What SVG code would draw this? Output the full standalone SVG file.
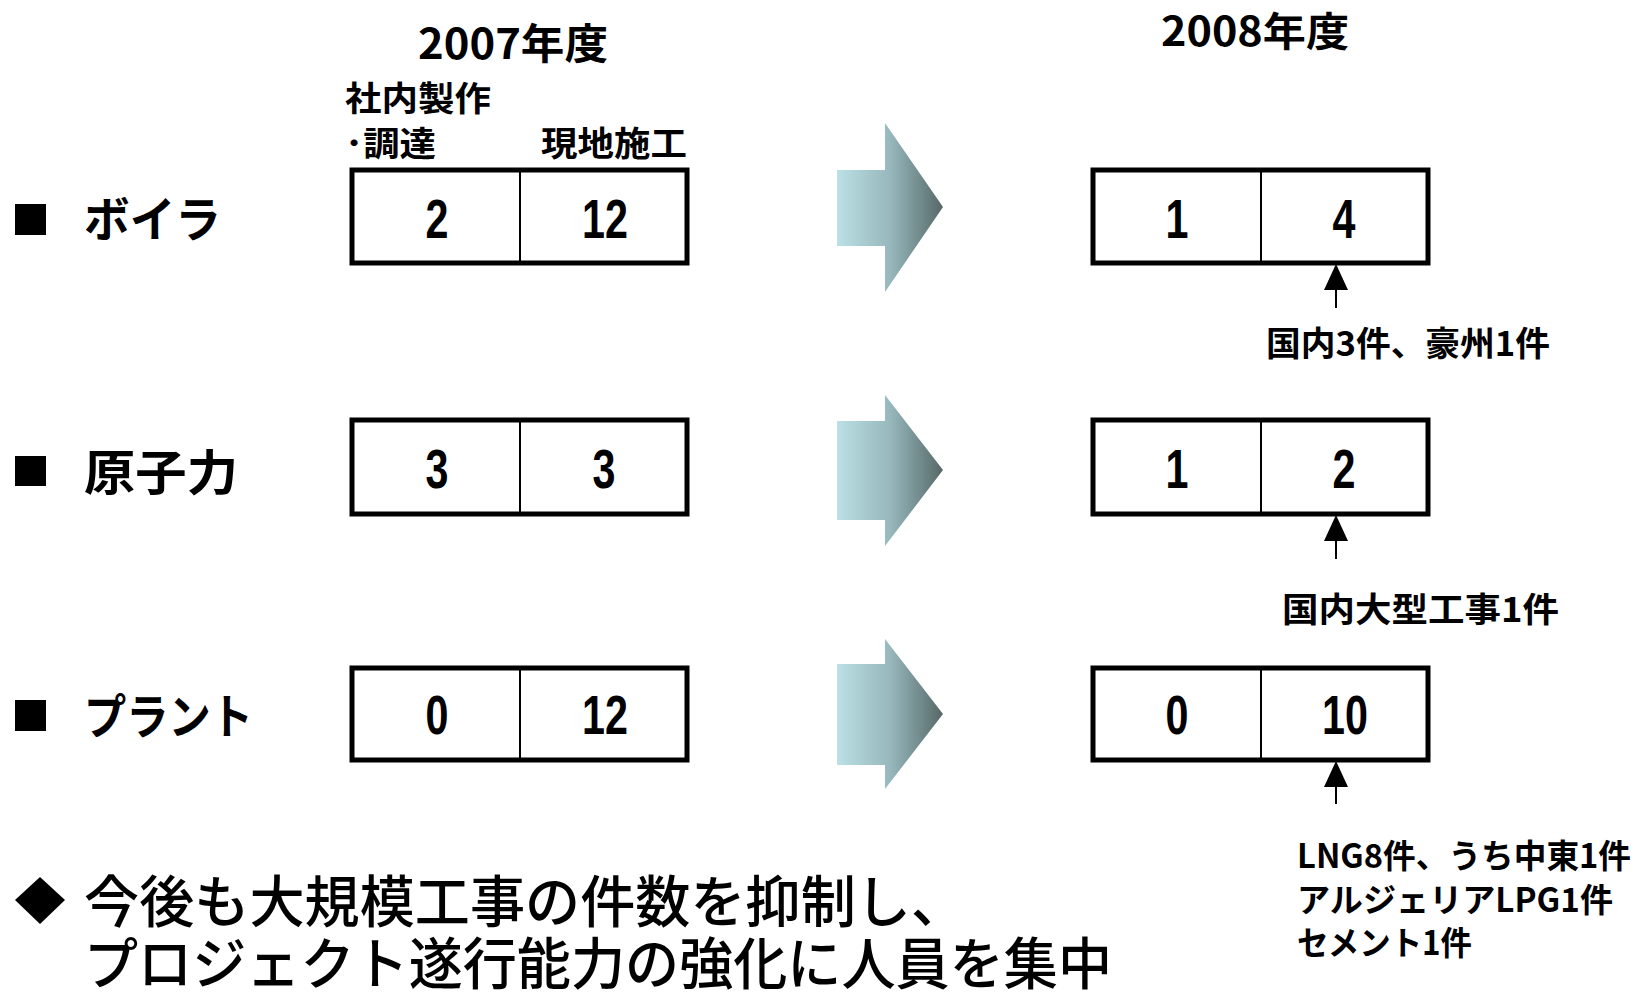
<svg xmlns="http://www.w3.org/2000/svg" width="1637" height="994" viewBox="0 0 1637 994">
<style>
.j{font-family:"Noto Sans CJK JP",sans-serif;font-weight:bold;fill:#000}
.n{font-family:"Liberation Sans","Noto Sans CJK JP",sans-serif;font-weight:bold;font-size:55px;text-anchor:middle;fill:#000}
.box{fill:#fff;stroke:#000;stroke-width:5}
.div{stroke:#000;stroke-width:2}
.big{fill:url(#g)}
.pl{stroke:#000;stroke-width:2}
</style>
<defs>
<linearGradient id="g" x1="0" y1="0" x2="1" y2="0">
<stop offset="0" stop-color="#bbe0e5"/>
<stop offset="0.5" stop-color="#97b8bc"/>
<stop offset="1" stop-color="#566868"/>
</linearGradient>
</defs>

<g id="headers">
<text class="j" x="418" y="59" font-size="42" textLength="190" lengthAdjust="spacingAndGlyphs">2007年度</text>
<text class="j" x="1161" y="46" font-size="40" textLength="188" lengthAdjust="spacingAndGlyphs">2008年度</text>
<text class="j" x="345" y="111" font-size="34" textLength="146" lengthAdjust="spacingAndGlyphs">社内製作</text>
<text class="j" x="345" y="156" font-size="34" textLength="91" lengthAdjust="spacingAndGlyphs">･調達</text>
<text class="j" x="541" y="156" font-size="34" textLength="146" lengthAdjust="spacingAndGlyphs">現地施工</text>
</g>

<g id="row-labels">
<rect x="15" y="204" width="31" height="31"/>
<text class="j" x="84" y="237" font-size="48" textLength="137" lengthAdjust="spacingAndGlyphs">ボイラ</text>
<rect x="15" y="456" width="31" height="30"/>
<text class="j" x="84" y="490" font-size="48" textLength="154" lengthAdjust="spacingAndGlyphs">原子力</text>
<rect x="15" y="700" width="31" height="31"/>
<text class="j" x="84" y="734" font-size="48" textLength="169" lengthAdjust="spacingAndGlyphs">プラント</text>
</g>

<g id="box-2007-boiler">
<rect class="box" x="352" y="170" width="335" height="93"/>
<line class="div" x1="520" y1="170" x2="520" y2="263"/>
<text class="n" transform="translate(437,238) scale(0.75,1)">2</text>
<text class="n" transform="translate(605,238) scale(0.75,1)">12</text>
</g>
<g id="box-2007-nuclear">
<rect class="box" x="352" y="420" width="335" height="94"/>
<line class="div" x1="520" y1="420" x2="520" y2="514"/>
<text class="n" transform="translate(437,488) scale(0.75,1)">3</text>
<text class="n" transform="translate(604,488) scale(0.75,1)">3</text>
</g>
<g id="box-2007-plant">
<rect class="box" x="352" y="668" width="335" height="92"/>
<line class="div" x1="520" y1="668" x2="520" y2="760"/>
<text class="n" transform="translate(437,734) scale(0.75,1)">0</text>
<text class="n" transform="translate(605,734) scale(0.75,1)">12</text>
</g>

<g id="box-2008-boiler">
<rect class="box" x="1093" y="170" width="335" height="93"/>
<line class="div" x1="1261" y1="170" x2="1261" y2="263"/>
<text class="n" transform="translate(1177,238) scale(0.75,1)">1</text>
<text class="n" transform="translate(1344,238) scale(0.75,1)">4</text>
</g>
<g id="box-2008-nuclear">
<rect class="box" x="1093" y="420" width="335" height="94"/>
<line class="div" x1="1261" y1="420" x2="1261" y2="514"/>
<text class="n" transform="translate(1177,488) scale(0.75,1)">1</text>
<text class="n" transform="translate(1344,488) scale(0.75,1)">2</text>
</g>
<g id="box-2008-plant">
<rect class="box" x="1093" y="668" width="335" height="92"/>
<line class="div" x1="1261" y1="668" x2="1261" y2="760"/>
<text class="n" transform="translate(1177,734) scale(0.75,1)">0</text>
<text class="n" transform="translate(1345,734) scale(0.75,1)">10</text>
</g>

<g id="connectors">
<polygon class="big" points="837,170 885,170 885,123 943,207 885,292 885,246 837,246"/>
<polygon class="big" points="837,421 885,421 885,395 943,470 885,546 885,520 837,520"/>
<polygon class="big" points="837,664 885,664 885,639 943,714 885,789 885,765 837,765"/>
<line class="pl" x1="1336" y1="308" x2="1336" y2="285"/>
<polygon points="1336,264 1324,290 1348,290"/>
<line class="pl" x1="1336" y1="559" x2="1336" y2="535"/>
<polygon points="1336,515 1324,541 1348,541"/>
<line class="pl" x1="1336" y1="804" x2="1336" y2="780"/>
<polygon points="1336,761 1324,787 1348,787"/>
</g>

<g id="notes">
<text class="j" x="1266" y="356" font-size="34" textLength="284" lengthAdjust="spacingAndGlyphs">国内3件、豪州1件</text>
<text class="j" x="1282" y="622" font-size="34" textLength="277" lengthAdjust="spacingAndGlyphs">国内大型工事1件</text>
<text class="j" x="1297" y="868" font-size="33" textLength="334" lengthAdjust="spacingAndGlyphs">LNG8件、うち中東1件</text>
<text class="j" x="1297" y="912" font-size="33" textLength="316" lengthAdjust="spacingAndGlyphs">アルジェリアLPG1件</text>
<text class="j" x="1297" y="955" font-size="33" textLength="175" lengthAdjust="spacingAndGlyphs">セメント1件</text>
</g>

<g id="summary">
<polygon points="40,877 65,900 40,924 15,900"/>
<text class="j" x="84" y="922" font-size="56" style="font-weight:500" textLength="882" lengthAdjust="spacingAndGlyphs">今後も大規模工事の件数を抑制し、</text>
<text class="j" x="84" y="984" font-size="56" style="font-weight:500" textLength="1028" lengthAdjust="spacingAndGlyphs">プロジェクト遂行能力の強化に人員を集中</text>
</g>
</svg>
